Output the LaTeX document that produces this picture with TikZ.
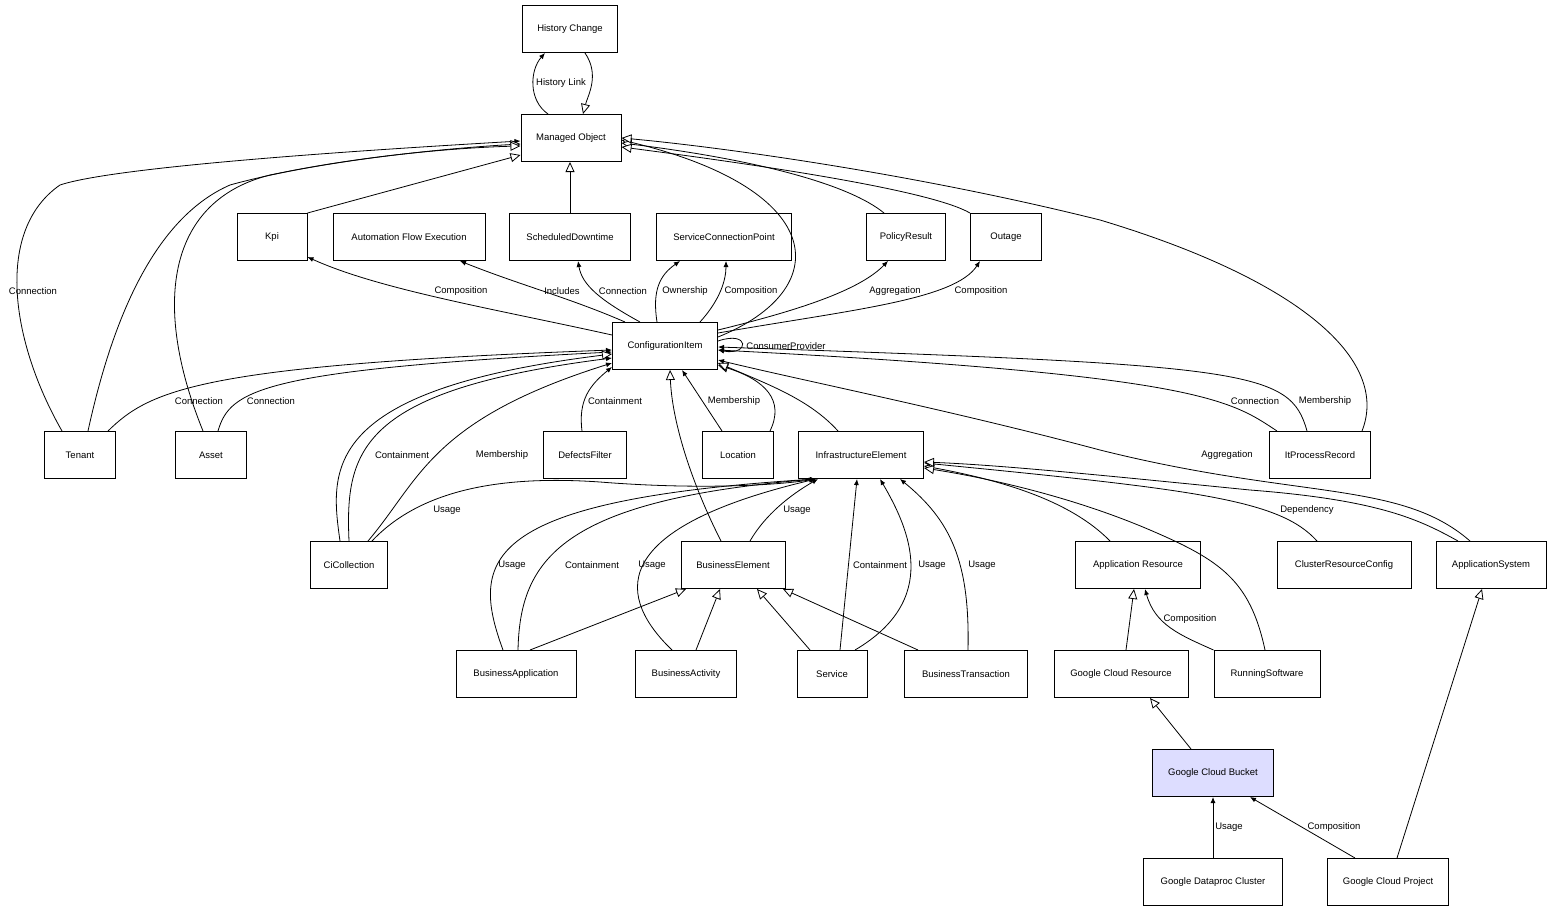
\documentclass[tikz,border=0pt]{standalone}
\usepackage{fontspec}
\setmainfont{Liberation Sans}
\usetikzlibrary{arrows.meta}
\definecolor{bucket}{RGB}{221,221,255}
\begin{document}
\begin{tikzpicture}[x=1pt,y=-1pt,
  box/.style={draw,line width=1pt,minimum height=47pt,inner sep=0pt,font=\fontsize{9.5}{11}\selectfont},
  lab/.style={font=\fontsize{9.5}{11}\selectfont,inner sep=1pt},
  e/.style={line width=0.8pt},
  ar/.style={e,-{Latex[length=6pt,width=5pt]}},
  inh/.style={e,-{Triangle[open,length=10pt,width=9pt,fill=white]}}]
\useasboundingbox (0,0) rectangle (1552,913);
% nodes
\node[box,minimum width=95pt] (hc) at (570,29) {History Change};
\node[box,minimum width=100pt] (mo) at (571,138) {Managed Object};
\node[box,minimum width=70pt] (kpi) at (272,237) {Kpi};
\node[box,minimum width=152pt] (afe) at (409,237) {Automation Flow Execution};
\node[box,minimum width=121pt] (sd) at (570,237) {ScheduledDowntime};
\node[box,minimum width=135pt] (scp) at (724,237) {ServiceConnectionPoint};
\node[box,minimum width=79pt] (pr) at (906,237) {PolicyResult};
\node[box,minimum width=71pt] (out) at (1006,237) {Outage};
\node[box,minimum width=105pt] (ci) at (665,346) {ConfigurationItem};
\node[box,minimum width=71pt] (ten) at (80,455) {Tenant};
\node[box,minimum width=71pt] (ast) at (211,455) {Asset};
\node[box,minimum width=83pt] (df) at (585,455) {DefectsFilter};
\node[box,minimum width=71pt] (loc) at (738,455) {Location};
\node[box,minimum width=125pt] (ie) at (861,455) {InfrastructureElement};
\node[box,minimum width=101pt] (ipr) at (1320,455) {ItProcessRecord};
\node[box,minimum width=77pt] (cic) at (349,565) {CiCollection};
\node[box,minimum width=104pt] (be) at (733,565) {BusinessElement};
\node[box,minimum width=125pt] (ares) at (1138,565) {Application Resource};
\node[box,minimum width=134pt] (crc) at (1344,565) {ClusterResourceConfig};
\node[box,minimum width=110pt] (as) at (1491,565) {ApplicationSystem};
\node[box,minimum width=120pt] (bapp) at (516,674) {BusinessApplication};
\node[box,minimum width=101pt] (bact) at (686,674) {BusinessActivity};
\node[box,minimum width=70pt] (svc) at (832,674) {Service};
\node[box,minimum width=123pt] (bt) at (966,674) {BusinessTransaction};
\node[box,minimum width=134pt] (gcr) at (1121,674) {Google Cloud Resource};
\node[box,minimum width=106pt] (rs) at (1267,674) {RunningSoftware};
\node[box,minimum width=121pt,fill=bucket] (gcb) at (1213,773) {Google Cloud Bucket};
\node[box,minimum width=139pt] (gdc) at (1213,882) {Google Dataproc Cluster};
\node[box,minimum width=121pt] (gcp) at (1388,882) {Google Cloud Project};
% history link
\draw[ar] ([xshift=-23pt]mo.north) .. controls (528,100) and (530,70) .. ([xshift=-25pt]hc.south);
\draw[inh] ([xshift=15pt]hc.south) .. controls (600,75) and (588,95) .. ([xshift=12pt]mo.north);
\node[lab] at (561,83) {History Link};
% into Managed Object
\draw[ar] ([xshift=-18pt]ten.north) .. controls (10,340) and (-5,230) .. (60,185) .. controls (120,165) and (400,148) .. ([yshift=-3pt]mo.west);
\node[lab] at (33,291) {Connection};
\draw[inh] ([xshift=8pt]ten.north) .. controls (110,330) and (150,220) .. (230,185) .. controls (320,160) and (450,148) .. ([yshift=-6pt]mo.west);
\draw[inh] ([xshift=-8pt]ast.north) .. controls (150,300) and (170,200) .. (270,175) .. controls (380,152) and (480,147) .. ([yshift=-8pt]mo.west);
\draw[inh] (kpi.north east) -- ([yshift=-17pt]mo.west);
\draw[inh] (sd.north) -- (sd.north |- mo.south);
\draw[inh] ([yshift=9pt]ci.east) .. controls (835,290) and (830,190) .. ([yshift=-2pt]mo.east);
\draw[inh] ([xshift=-22pt]pr.north) .. controls (850,185) and (760,160) .. ([yshift=-5pt]mo.east);
\draw[inh] (out.north west) .. controls (930,190) and (760,165) .. ([yshift=-9pt]mo.east);
\draw[inh] ([xshift=42pt]ipr.north) .. controls (1390,360) and (1300,280) .. (1100,220) .. controls (900,170) and (700,145) .. (mo.east);
% from ConfigurationItem upward
\draw[ar] ([yshift=11pt]ci.west) .. controls (500,310) and (380,290) .. ([yshift=4pt]kpi.south east);
\node[lab] at (461,291) {Composition};
\draw[ar] ([xshift=-40pt]ci.north) .. controls (570,298) and (520,285) .. ([xshift=51pt]afe.south);
\node[lab] at (562,291) {Includes};
\draw[ar] ([xshift=-25pt]ci.north) .. controls (600,300) and (582,285) .. ([xshift=8pt]sd.south);
\node[lab] at (623,291) {Connection};
\draw[ar] ([xshift=-8pt]ci.north) .. controls (652,290) and (660,275) .. ([xshift=-44pt]scp.south);
\node[lab] at (685,291) {Ownership};
\draw[ar] ([xshift=35pt]ci.north) .. controls (720,300) and (726,280) .. ([xshift=2pt]scp.south);
\node[lab] at (751,291) {Composition};
\draw[ar] ([yshift=16pt]ci.east) .. controls (800,310) and (860,290) .. ([xshift=-18pt]pr.south);
\node[lab] at (895,291) {Aggregation};
\draw[ar] ([yshift=13pt]ci.east) .. controls (850,310) and (955,300) .. ([xshift=-26pt]out.south);
\node[lab] at (981,291) {Composition};
\draw[ar] ([yshift=5pt]ci.east) .. controls (750,330) and (750,356) .. ([yshift=-4pt]ci.east);
\node[lab] at (786,346) {ConsumerProvider};
% into ConfigurationItem
\draw[ar] ([xshift=28pt]ten.north) .. controls (150,390) and (200,365) .. ([yshift=-4pt]ci.west);
\node[lab] at (199,401) {Connection};
\draw[ar] ([xshift=7pt]ast.north) .. controls (230,390) and (260,370) .. ([yshift=-6pt]ci.west);
\node[lab] at (271,401) {Connection};
\draw[inh] ([xshift=-9pt]cic.north) .. controls (330,470) and (320,390) .. ([yshift=-8pt]ci.west);
\draw[ar] (cic.north) .. controls (345,450) and (360,390) .. ([yshift=-12pt]ci.west);
\node[lab] at (402,455) {Containment};
\draw[ar] ([xshift=19pt]cic.north) .. controls (420,480) and (430,420) .. ([yshift=-17pt]ci.west);
\node[lab] at (502,455) {Membership};
\draw[ar] ([xshift=-3pt]df.north) .. controls (578,400) and (590,385) .. ([yshift=3pt]ci.south west);
\node[lab] at (615,401) {Containment};
\draw[ar] ([xshift=-16pt]loc.north) -- ([xshift=17pt]ci.south);
\node[lab] at (734,401) {Membership};
\draw[inh] ([xshift=32pt]loc.north) .. controls (785,400) and (765,380) .. ([yshift=-19pt]ci.east);
\draw[inh] ([xshift=-23pt]ie.north) .. controls (810,400) and (770,385) .. ([yshift=-17pt]ci.east);
\draw[inh] ([xshift=-12pt]be.north) .. controls (690,480) and (672,420) .. ([xshift=5pt]ci.south);
\draw[ar] ([xshift=-43pt]ipr.north) .. controls (1230,400) and (1200,375) .. ([yshift=-4pt]ci.east);
\node[lab] at (1255,401) {Connection};
\draw[ar] ([xshift=-13pt]ipr.north) .. controls (1290,370) and (1250,365) .. ([yshift=-1pt]ci.east);
\node[lab] at (1325,401) {Membership};
\draw[ar] ([xshift=-21pt]as.north) .. controls (1400,480) and (1300,500) .. (1100,450) .. controls (950,410) and (800,380) .. ([yshift=-14pt]ci.east);
\node[lab] at (1227,455) {Aggregation};
% into InfrastructureElement
\draw[ar] ([xshift=23pt]cic.north) .. controls (420,490) and (500,475) .. (600,482) .. controls (700,490) and (780,485) .. ([xshift=-46pt]ie.south);
\node[lab] at (447,510) {Usage};
\draw[ar] ([xshift=-13pt]bapp.north) .. controls (470,560) and (480,500) .. ([xshift=-45pt]ie.south);
\node[lab] at (512,565) {Usage};
\draw[ar] ([xshift=2pt]bapp.north) .. controls (520,560) and (560,500) .. ([xshift=-45pt]ie.south);
\node[lab] at (592,565) {Containment};
\draw[ar] ([xshift=-14pt]bact.north) .. controls (620,600) and (600,530) .. ([xshift=-45pt]ie.south);
\node[lab] at (652,565) {Usage};
\draw[ar] ([xshift=17pt]be.north) .. controls (765,515) and (790,495) .. ([xshift=-43pt]ie.south);
\node[lab] at (797,510) {Usage};
\draw[ar] ([xshift=8pt]svc.north) -- ([xshift=-4pt]ie.south);
\node[lab] at (880,565) {Containment};
\draw[ar] ([xshift=23pt]svc.north) .. controls (940,600) and (910,530) .. ([xshift=19pt]ie.south);
\node[lab] at (932,565) {Usage};
\draw[ar] ([xshift=2pt]bt.north) .. controls (970,560) and (950,520) .. ([xshift=39pt]ie.south);
\node[lab] at (982,565) {Usage};
\draw[inh] ([xshift=-28pt]ares.north) .. controls (1070,500) and (1000,480) .. ([yshift=-11pt]ie.east);
\draw[inh] ([xshift=-2pt]rs.north) .. controls (1250,580) and (1220,560) .. (1150,530) .. controls (1080,500) and (1000,480) .. ([yshift=-13pt]ie.east);
\draw[ar] ([xshift=-27pt]crc.north) .. controls (1280,500) and (1200,490) .. ([yshift=-8pt]ie.east);
\node[lab] at (1307,510) {Dependency};
\draw[inh] ([xshift=-33pt]as.north) .. controls (1420,520) and (1380,500) .. (1250,490) .. controls (1100,475) and (1000,465) .. ([yshift=-7pt]ie.east);
% into BusinessElement
\draw[inh] ([xshift=14pt]bapp.north) -- ([xshift=-47pt]be.south);
\draw[inh] ([xshift=10pt]bact.north) -- ([xshift=-13pt]be.south);
\draw[inh] ([xshift=-22pt]svc.north) -- ([xshift=24pt]be.south);
\draw[inh] ([xshift=-48pt]bt.north) -- ([xshift=50pt]be.south);
% lower right
\draw[inh] ([xshift=5pt]gcr.north) -- ([xshift=-4pt]ares.south);
\draw[ar] (rs.north west) .. controls (1180,635) and (1155,625) .. ([xshift=7pt]ares.south);
\node[lab] at (1190,619) {Composition};
\draw[inh] ([xshift=-22pt]gcb.north) -- ([xshift=29pt]gcr.south);
\draw[inh] ([xshift=9pt]gcp.north) -- ([xshift=-9pt]as.south);
\draw[ar] (gdc.north) -- (gcb.south);
\node[lab] at (1229,827) {Usage};
\draw[ar] ([xshift=-33pt]gcp.north) -- ([xshift=37pt]gcb.south);
\node[lab] at (1334,827) {Composition};
\end{tikzpicture}
\end{document}
